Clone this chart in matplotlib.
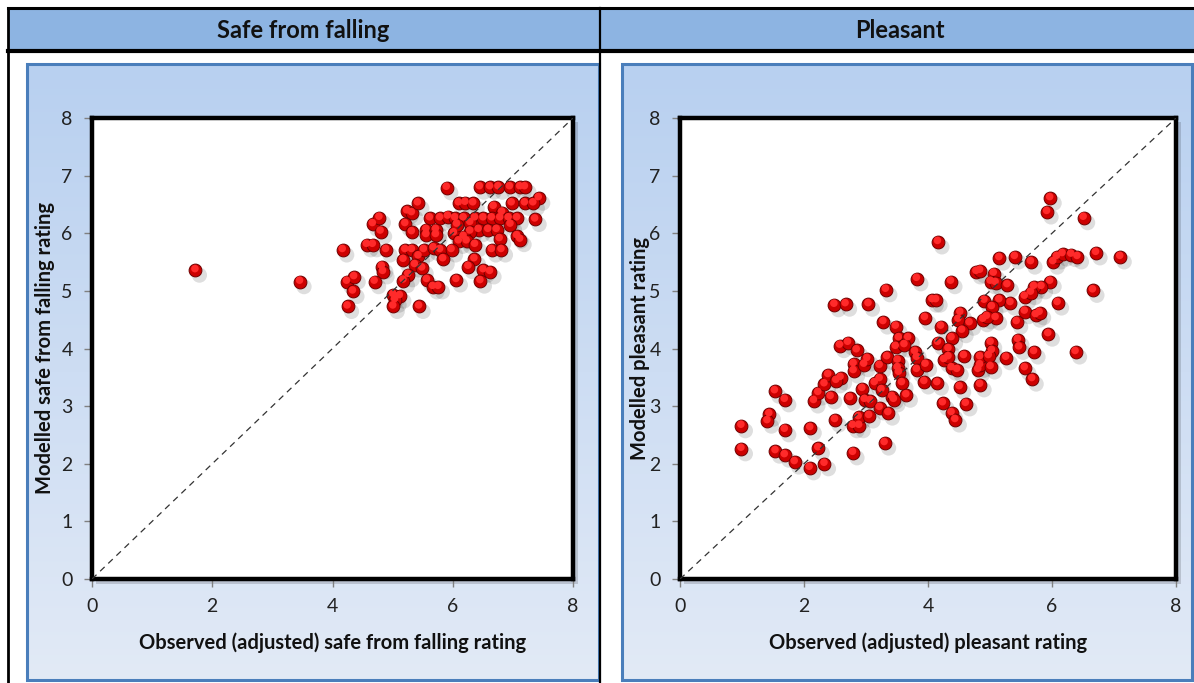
import numpy as np
import matplotlib
matplotlib.use('Agg')
import matplotlib.pyplot as plt
from matplotlib.patches import Rectangle
from matplotlib.lines import Line2D
import matplotlib.transforms as mtransforms

# ---------------- data ----------------
panel_titles = ["Safe from falling", "Pleasant"]
x_labels = ["Observed (adjusted) safe from falling rating", "Observed (adjusted) pleasant rating"]
y_labels = ["Modelled safe from falling rating", "Modelled pleasant rating"]
x_ticks = [0, 2, 4, 6, 8]
y_ticks = [0, 1, 2, 3, 4, 5, 6, 7, 8]

safe_observed = [
    1.72, 3.46,
    4.17, 4.67, 4.78, 4.80, 4.57, 4.67, 4.89, 4.82, 4.84, 4.24, 4.36, 4.34, 4.25, 4.70,
    5.24, 5.32, 5.42, 5.21, 5.32, 5.90, 5.56, 5.56, 5.72, 5.72, 5.62, 5.79, 5.92, 5.21,
    5.32, 5.18, 5.43, 5.52, 5.68, 5.79, 5.37, 5.49, 5.84, 5.26, 5.18, 5.57, 5.67, 5.76,
    5.01, 5.12, 5.04, 5.01, 5.44, 6.02,
    6.45, 6.62, 6.76, 6.95, 7.12, 7.20, 7.43, 6.10, 6.21, 6.34, 6.98, 7.20, 7.34, 6.68,
    6.82, 6.04, 6.18, 6.37, 6.51, 6.65, 6.79, 6.93, 7.07, 7.37, 6.07, 6.29, 6.43, 6.59,
    6.73, 6.96, 6.29, 6.18, 6.10, 6.23, 6.37, 6.78, 7.07, 7.12, 5.98, 6.65, 6.81, 6.36,
    6.26, 6.51, 6.62, 6.06, 6.46]
safe_modelled = [
    5.36, 5.16,
    5.71, 6.16, 6.27, 6.03, 5.80, 5.80, 5.71, 5.42, 5.33, 5.16, 5.24, 4.99, 4.73, 5.16,
    6.38, 6.35, 6.52, 6.16, 6.02, 6.79, 6.06, 5.97, 6.06, 5.97, 6.26, 6.26, 6.29, 5.71,
    5.71, 5.54, 5.60, 5.71, 5.74, 5.71, 5.45, 5.39, 5.55, 5.28, 5.18, 5.19, 5.07, 5.07,
    4.93, 4.91, 4.84, 4.73, 4.73, 6.00,
    6.80, 6.80, 6.80, 6.80, 6.80, 6.80, 6.61, 6.52, 6.53, 6.52, 6.52, 6.52, 6.52, 6.46,
    6.36, 6.26, 6.26, 6.26, 6.26, 6.26, 6.26, 6.26, 6.26, 6.24, 6.15, 6.18, 6.06, 6.06,
    6.06, 6.15, 6.03, 5.94, 5.86, 5.86, 5.80, 5.90, 5.95, 5.89, 5.71, 5.71, 5.71, 5.55,
    5.42, 5.36, 5.33, 5.19, 5.17]

pleasant_observed = [
    5.97, 5.92, 6.51, 4.16, 5.15, 5.40, 5.66, 6.02, 6.08, 6.17, 6.31, 6.41, 6.71, 7.10,
    6.66, 4.78, 4.84, 5.06, 5.01, 5.09, 5.28, 5.97, 5.83, 5.71, 5.56, 5.66, 6.09, 5.33,
    5.15, 4.91, 5.03, 5.56, 5.74, 5.80, 5.43, 4.89, 5.09, 4.95, 5.94, 5.45, 5.47, 5.01,
    5.03, 5.71, 6.38, 2.49, 2.67, 3.04, 3.32, 3.82, 4.37, 4.07, 4.13, 3.28, 3.48, 3.95,
    4.21, 4.52, 4.49, 4.67, 4.55, 4.38, 4.16, 3.53, 3.68, 2.58, 2.71, 2.85, 3.48, 3.62,
    3.79, 4.33,
    0.99, 0.99, 1.44, 1.41, 1.53, 1.69, 1.69, 1.54, 1.69, 1.85, 2.09, 2.33, 2.23, 2.10,
    2.16, 2.23, 2.33, 2.39, 2.59, 2.52, 2.43, 2.50, 2.79, 2.89, 2.88, 2.79, 3.30, 2.74,
    2.94, 2.98, 3.07, 3.05, 3.22, 3.36, 3.42, 3.45, 3.65, 3.14, 3.22, 3.25, 2.80, 2.80,
    2.97, 3.02, 3.22, 3.34, 3.51, 3.51, 3.53, 3.58, 3.82, 3.82, 3.96, 3.94, 4.15, 4.24,
    4.38, 4.44, 4.61, 4.51, 4.84, 4.38, 4.47, 4.26, 4.33, 4.58, 4.81, 4.84, 5.01, 5.26,
    5.56, 5.68, 4.84, 4.98]
pleasant_modelled = [
    6.61, 6.37, 6.27, 5.85, 5.57, 5.59, 5.50, 5.50, 5.59, 5.64, 5.63, 5.59, 5.66, 5.59,
    5.01, 5.33, 5.35, 5.30, 5.16, 5.14, 5.10, 5.16, 5.07, 5.07, 4.90, 4.97, 4.79, 4.79,
    4.84, 4.83, 4.72, 4.64, 4.58, 4.62, 4.46, 4.50, 4.53, 4.55, 4.25, 4.15, 4.02, 4.10,
    3.96, 3.94, 3.94, 4.76, 4.77, 4.77, 5.02, 5.21, 5.16, 4.84, 4.84, 4.46, 4.38, 4.53,
    4.38, 4.62, 4.50, 4.44, 4.31, 4.18, 4.10, 4.18, 4.18, 4.05, 4.10, 3.97, 4.03, 4.06,
    3.94, 3.99,
    2.66, 2.26, 2.86, 2.74, 3.26, 3.11, 2.59, 2.22, 2.15, 2.03, 1.93, 2.00, 2.27, 2.62,
    3.09, 3.23, 3.38, 3.54, 3.49, 3.44, 3.16, 2.76, 2.66, 2.66, 2.81, 2.19, 2.36, 3.14,
    3.30, 3.11, 3.09, 2.83, 2.97, 2.88, 3.16, 3.11, 3.19, 3.40, 3.47, 3.28, 3.73, 3.61,
    3.72, 3.82, 3.70, 3.85, 3.79, 3.66, 3.58, 3.40, 3.84, 3.63, 3.72, 3.42, 3.40, 3.05,
    2.88, 2.76, 3.04, 3.33, 3.37, 3.66, 3.63, 3.80, 3.85, 3.87, 3.63, 3.71, 3.68, 3.84,
    3.66, 3.47, 3.85, 3.87]

series = [(safe_observed, safe_modelled), (pleasant_observed, pleasant_modelled)]

# ---------------- layout ----------------
W, H = 1194, 683
fig = plt.figure(figsize=(W / 100, H / 100), dpi=100)
fig.patch.set_facecolor('white')
FONT = ['Lato', 'DejaVu Sans']

def rect(px0, py0, px1, py1):
    return [px0 / W, 1 - py1 / H, (px1 - px0) / W, (py1 - py0) / H]

# header band
fig.patches.append(Rectangle((8 / W, 1 - 51 / H), (W - 8) / W, 43 / H,
                             transform=fig.transFigure, facecolor='#8db4e2',
                             edgecolor='none', zorder=0))
def fline(x0, y0, x1, y1, lw):
    fig.lines.append(Line2D([x0 / W, x1 / W], [1 - y0 / H, 1 - y1 / H],
                            transform=fig.transFigure, color='black', lw=lw, zorder=5))
fline(8, 8, W, 8, 2.2)
fline(8, 51, W, 51, 3.0)
fline(8, 8, 8, H, 2.0)
fline(600, 8, 600, H, 1.6)

title_x = [303, 900]
for tx, t in zip(title_x, panel_titles):
    fig.text(tx / W, 1 - 30 / H, t, ha='center', va='center', fontsize=17,
             fontweight='bold', family=FONT, color='#111111')

# panel backgrounds
panels = [(27, 64, 599, 680), (622, 64, 1192, 680)]
grad = np.linspace(0, 1, 256)[:, None]
top = np.array([184, 208, 240]) / 255
bot = np.array([226, 234, 246]) / 255
img = top[None, None, :] * (1 - grad[..., None]) + bot[None, None, :] * grad[..., None]
for p in panels:
    bax = fig.add_axes(rect(*p))
    bax.imshow(img, aspect='auto', extent=[0, 1, 0, 1])
    bax.set_xlim(0, 1); bax.set_ylim(0, 1)
    bax.axis('off')
    bax.add_patch(Rectangle((0, 0), 1, 1, transform=bax.transAxes, fill=False,
                            edgecolor='#4a7ebb', lw=2.2, clip_on=False))

axes_px = [(92, 118, 573, 579), (680, 118, 1176, 579)]
ylabel_x = [45, 640]

for i, (ap, (xs, ys)) in enumerate(zip(axes_px, series)):
    # frame shadow
    sh = fig.add_axes(rect(ap[0] + 4, ap[1] + 4, ap[2] + 5, ap[3] + 5))
    sh.set_facecolor((0, 0, 0, 0.15))
    sh.set_xticks([]); sh.set_yticks([])
    for s in sh.spines.values():
        s.set_visible(False)

    ax = fig.add_axes(rect(*ap))
    ax.set_facecolor('white')
    ax.set_xlim(0, 8); ax.set_ylim(0, 8)
    ax.set_xticks(x_ticks); ax.set_yticks(y_ticks)
    ax.tick_params(direction='out', length=6, width=1, color='#808080',
                   labelsize=14, labelcolor='#222222', pad=8)
    for lab in ax.get_xticklabels() + ax.get_yticklabels():
        lab.set_family(FONT)
    for s in ax.spines.values():
        s.set_color('black'); s.set_linewidth(3.2)

    # diagonal reference line
    ax.plot([0, 8], [0, 8], ls=(0, (5, 4)), color='#333333', lw=0.9, zorder=5)

    shadow_tr = mtransforms.offset_copy(ax.transData, fig=fig, x=4, y=-5, units='dots')
    ax.scatter(xs, ys, s=120, color=(0, 0, 0, 0.13), edgecolors='none',
               transform=shadow_tr, zorder=2)
    ax.scatter(xs, ys, s=85, color='#cc0000', edgecolors='#6e0000', linewidths=0.7, zorder=3)
    hl_tr = mtransforms.offset_copy(ax.transData, fig=fig, x=-0.5, y=1.5, units='dots')
    ax.scatter(xs, ys, s=30, color='#ff2a2a', edgecolors='none', transform=hl_tr, zorder=4)

    ax.set_xlabel(x_labels[i], fontsize=14.5, fontweight='bold', family=FONT,
                  color='#111111', labelpad=12)
    fig.text(ylabel_x[i] / W, 1 - ((ap[1] + ap[3]) / 2) / H, y_labels[i], rotation=90,
             ha='center', va='center', fontsize=14.5, fontweight='bold', family=FONT,
             color='#111111')

fig.savefig('out.png', dpi=100)
